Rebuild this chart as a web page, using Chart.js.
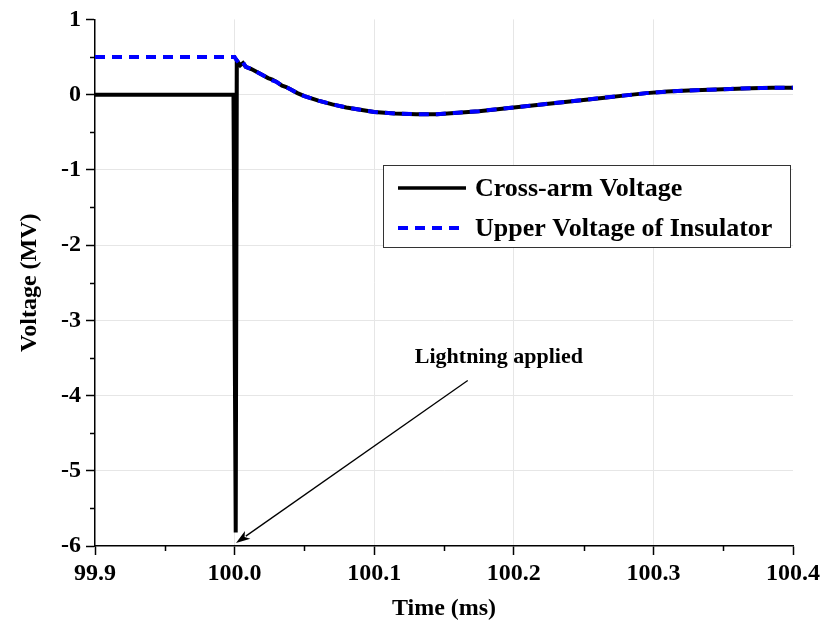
<!DOCTYPE html>
<html>
<head>
<meta charset="utf-8">
<script src="https://cdn.jsdelivr.net/npm/chart.js@4.4.0/dist/chart.umd.min.js"></script>
<style>
  html, body { margin: 0; padding: 0; background: #fff; }
  #wrap { width: 826px; height: 631px; }
</style>
</head>
<body>
<div id="wrap"><canvas id="voltageChart"></canvas></div>
<script>
// time axis in ms, voltages in MV
var xTicks = [99.9, 100.0, 100.1, 100.2, 100.3, 100.4];
var yTicks = [1, 0, -1, -2, -3, -4, -5, -6];

var crossArmTime = [99.9, 99.95, 99.9992, 100.0008, 100.0016, 100.004, 100.006, 100.008, 100.012, 100.016, 100.020, 100.024, 100.027, 100.030, 100.034, 100.037, 100.040, 100.045, 100.050, 100.060, 100.070, 100.080, 100.090, 100.100, 100.115, 100.130, 100.145, 100.160, 100.175, 100.190, 100.205, 100.220, 100.235, 100.250, 100.265, 100.280, 100.295, 100.310, 100.325, 100.340, 100.355, 100.370, 100.385, 100.400];
var crossArmMV = [0, 0, 0, -5.82, 0.45, 0.39, 0.42, 0.37, 0.34, 0.30, 0.26, 0.22, 0.20, 0.17, 0.12, 0.10, 0.07, 0.02, -0.02, -0.08, -0.13, -0.17, -0.20, -0.23, -0.25, -0.26, -0.26, -0.24, -0.22, -0.19, -0.16, -0.13, -0.10, -0.07, -0.04, -0.01, 0.02, 0.04, 0.055, 0.065, 0.075, 0.085, 0.09, 0.09];

var insulatorTime = [99.9, 99.95, 100.0, 100.001, 100.004, 100.006, 100.008, 100.012, 100.016, 100.020, 100.024, 100.027, 100.030, 100.034, 100.037, 100.040, 100.045, 100.050, 100.060, 100.070, 100.080, 100.090, 100.100, 100.115, 100.130, 100.145, 100.160, 100.175, 100.190, 100.205, 100.220, 100.235, 100.250, 100.265, 100.280, 100.295, 100.310, 100.325, 100.340, 100.355, 100.370, 100.385, 100.400];
var insulatorMV = [0.5, 0.5, 0.5, 0.47, 0.40, 0.43, 0.37, 0.34, 0.30, 0.26, 0.22, 0.19, 0.17, 0.12, 0.10, 0.07, 0.02, -0.02, -0.08, -0.13, -0.17, -0.20, -0.23, -0.25, -0.26, -0.26, -0.24, -0.22, -0.19, -0.16, -0.13, -0.10, -0.07, -0.04, -0.01, 0.02, 0.04, 0.055, 0.065, 0.075, 0.085, 0.09, 0.09];

var seriesNames = ["Cross-arm Voltage", "Upper Voltage of Insulator"];

// annotation: arrow from label down to the strike point
var noteText = "Lightning applied";
var noteAt = { x: 100.1893, y: -3.49 };
var arrowFrom = { x: 100.167, y: -3.80 };
var arrowTo = { x: 100.001, y: -5.96 };

var serif = "'Liberation Serif', 'Times New Roman', serif";

function toPoints(xs, ys) {
    var pts = [];
    for (var i = 0; i < xs.length; i++) {
        pts.push({ x: xs[i], y: ys[i] });
    }
    return pts;
}

function innerGrid(ctx) {
    var n = ctx.scale.ticks.length;
    if (ctx.index === 0 || ctx.index === n - 1) return 'rgba(0,0,0,0)';
    return '#e6e6e6';
}

var extrasPlugin = {
    id: 'extras',
    afterDraw: function(chart) {
        var ctx = chart.ctx;
        var xs = chart.scales.x, ys = chart.scales.y;
        var area = chart.chartArea;
        ctx.save();

        // minor ticks halfway between the major ones
        ctx.strokeStyle = '#000';
        ctx.lineWidth = 1.5;
        ctx.beginPath();
        for (var i = 0; i < xTicks.length - 1; i++) {
            var px = Math.round(xs.getPixelForValue((xTicks[i] + xTicks[i + 1]) / 2)) + 0.5;
            ctx.moveTo(px, area.bottom);
            ctx.lineTo(px, area.bottom + 5);
        }
        for (var j = 0; j < yTicks.length - 1; j++) {
            var py = Math.round(ys.getPixelForValue((yTicks[j] + yTicks[j + 1]) / 2)) + 0.5;
            ctx.moveTo(area.left, py);
            ctx.lineTo(area.left - 5, py);
        }
        ctx.stroke();

        // arrow + note
        var x1 = xs.getPixelForValue(arrowFrom.x), y1 = ys.getPixelForValue(arrowFrom.y);
        var x2 = xs.getPixelForValue(arrowTo.x), y2 = ys.getPixelForValue(arrowTo.y);
        var ang = Math.atan2(y2 - y1, x2 - x1);
        var head = 15;
        ctx.lineWidth = 1.3;
        ctx.beginPath();
        ctx.moveTo(x1, y1);
        ctx.lineTo(x2 - Math.cos(ang) * head * 0.8, y2 - Math.sin(ang) * head * 0.8);
        ctx.stroke();
        ctx.fillStyle = '#000';
        ctx.beginPath();
        ctx.moveTo(x2, y2);
        ctx.lineTo(x2 - head * Math.cos(ang - 0.32), y2 - head * Math.sin(ang - 0.32));
        ctx.lineTo(x2 - head * 0.7 * Math.cos(ang), y2 - head * 0.7 * Math.sin(ang));
        ctx.lineTo(x2 - head * Math.cos(ang + 0.32), y2 - head * Math.sin(ang + 0.32));
        ctx.closePath();
        ctx.fill();

        ctx.font = 'bold 22px ' + serif;
        ctx.textAlign = 'center';
        ctx.textBaseline = 'middle';
        ctx.fillText(noteText, xs.getPixelForValue(noteAt.x), ys.getPixelForValue(noteAt.y));

        // legend box
        var lx = 383, ly = 165, lw = 407, lh = 82;
        ctx.fillStyle = '#fff';
        ctx.fillRect(lx, ly, lw, lh);
        ctx.strokeStyle = '#333';
        ctx.lineWidth = 1;
        ctx.strokeRect(lx + 0.5, ly + 0.5, lw, lh);

        var rows = [ly + 23, ly + 63];
        for (var k = 0; k < 2; k++) {
            var ds = chart.data.datasets[k];
            ctx.strokeStyle = ds.borderColor;
            ctx.lineWidth = k === 0 ? 3.5 : ds.borderWidth;
            ctx.setLineDash(ds.borderDash || []);
            ctx.beginPath();
            ctx.moveTo(lx + 15, rows[k]);
            ctx.lineTo(lx + 83, rows[k]);
            ctx.stroke();
            ctx.setLineDash([]);
            ctx.fillStyle = '#000';
            ctx.font = 'bold 26px ' + serif;
            ctx.textAlign = 'left';
            ctx.textBaseline = 'middle';
            ctx.fillText(seriesNames[k], lx + 92, rows[k] + 1);
        }
        ctx.restore();
    }
};

var voltageChart = new Chart(document.getElementById('voltageChart').getContext('2d'), {
    type: 'line',
    data: {
        datasets: [{
            label: seriesNames[0],
            data: toPoints(crossArmTime, crossArmMV),
            borderColor: '#000',
            borderWidth: 4,
            pointRadius: 0,
            tension: 0,
            order: 1
        }, {
            label: seriesNames[1],
            data: toPoints(insulatorTime, insulatorMV),
            borderColor: '#0000ff',
            borderWidth: 4,
            borderDash: [10, 7],
            pointRadius: 0,
            tension: 0,
            order: 0
        }]
    },
    options: {
        responsive: true,
        maintainAspectRatio: false,
        animation: false,
        devicePixelRatio: 1,
        layout: { padding: { top: 18, right: 33, left: 0, bottom: 0 } },
        plugins: { legend: { display: false }, tooltip: { enabled: false } },
        scales: {
            x: {
                type: 'linear',
                min: 99.9,
                max: 100.4,
                afterBuildTicks: function(scale) {
                    scale.ticks = xTicks.map(function(v) { return { value: v }; });
                },
                afterFit: function(scale) { scale.height = 85; },
                border: { color: '#000', width: 1.5 },
                grid: { color: innerGrid, tickColor: '#000', tickLength: 9, lineWidth: 1, tickWidth: 1.5 },
                ticks: {
                    color: '#000',
                    padding: 4,
                    maxRotation: 0,
                    font: { family: serif, size: 24, weight: 'bold' },
                    callback: function(v) { return Number(v).toFixed(1); }
                },
                title: {
                    display: true,
                    text: 'Time (ms)',
                    color: '#000',
                    padding: { top: 4, bottom: 8 },
                    font: { family: serif, size: 24, weight: 'bold' }
                }
            },
            y: {
                min: -6,
                max: 1,
                afterBuildTicks: function(scale) {
                    scale.ticks = yTicks.slice().reverse().map(function(v) { return { value: v }; });
                },
                afterFit: function(scale) { scale.width = 95; },
                border: { color: '#000', width: 1.5 },
                grid: { color: innerGrid, tickColor: '#000', tickLength: 9, lineWidth: 1, tickWidth: 1.5 },
                ticks: {
                    color: '#000',
                    padding: 5,
                    font: { family: serif, size: 24, weight: 'bold' },
                    callback: function(v) { return String(v); }
                },
                title: {
                    display: true,
                    text: 'Voltage (MV)',
                    color: '#000',
                    padding: { top: 15, bottom: 4 },
                    font: { family: serif, size: 24, weight: 'bold' }
                }
            }
        }
    },
    plugins: [extrasPlugin]
});
</script>
</body>
</html>
